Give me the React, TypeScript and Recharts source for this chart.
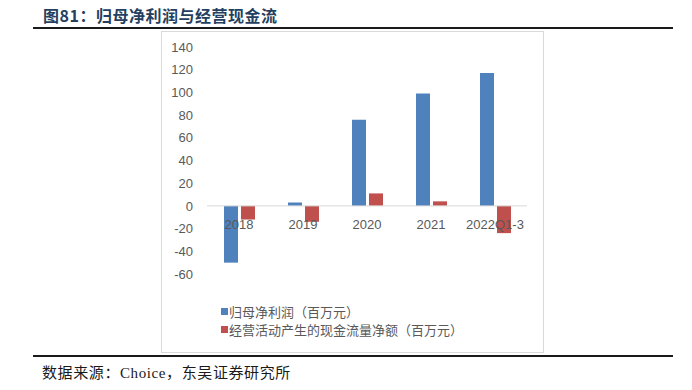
import { BarChart, Bar, XAxis, YAxis, ReferenceLine } from 'recharts';

const categories = ['2018', '2019', '2020', '2021', '2022Q1-3'];
const netProfit = [-50, 3, 76, 99, 117];
const operatingCash = [-12, -14, 11, 4, -24];
const yTicks = [-60, -40, -20, 0, 20, 40, 60, 80, 100, 120, 140];

const series = [
  { key: 'netProfit', name: '归母净利润（百万元）', color: '#4f81bd' },
  { key: 'operatingCash', name: '经营活动产生的现金流量净额（百万元）', color: '#c0504d' },
];

const data = categories.map((c, i) => ({
  name: c,
  netProfit: netProfit[i],
  operatingCash: operatingCash[i],
}));

const axisFont = '"Liberation Sans", Arial, sans-serif';

// x labels sit just under the zero line, not at the bottom of the plot
const XTick = ({ x, y, payload }: { x?: number; y?: number; payload?: { value: string } }) => (
  <text x={x} y={(y ?? 0) - 53} textAnchor="middle" fill="#595959" fontSize={13} fontFamily={axisFont}>
    {payload?.value}
  </text>
);

export default function App() {
  return (
    <div style={{ position: 'absolute', left: 0, top: 0, width: 692, height: 390, background: '#fff' }}>
      <div style={{
        position: 'absolute', left: 43, top: 3, fontSize: 16, fontWeight: 700, color: '#243f60',
        fontFamily: '"Noto Sans CJK SC", sans-serif', letterSpacing: '0.5px',
      }}>
        图81：归母净利润与经营现金流
      </div>
      <div style={{ position: 'absolute', left: 33, top: 27, width: 640, height: 2, background: '#1a1a1a' }} />

      <div style={{
        position: 'absolute', left: 161, top: 31, width: 383, height: 322,
        border: '1px solid #d9d9d9', boxSizing: 'border-box',
      }}>
        <BarChart
          width={381}
          height={320}
          data={data}
          margin={{ top: 15, right: 16, left: 0, bottom: 48 }}
          barSize={14}
          barGap={3}
        >
          <XAxis dataKey="name" axisLine={false} tickLine={false} tick={<XTick />} height={30} interval={0} />
          <YAxis
            domain={[-60, 140]}
            ticks={yTicks}
            axisLine={false}
            tickLine={false}
            width={45}
            tickMargin={8}
            tick={{ fontSize: 13, fill: '#595959', fontFamily: axisFont }}
          />
          <ReferenceLine y={0} stroke="#d9d9d9" strokeWidth={1} />
          {series.map((s) => (
            <Bar key={s.key} dataKey={s.key} name={s.name} fill={s.color} isAnimationActive={false} />
          ))}
        </BarChart>

        <div style={{ position: 'absolute', left: 59, top: 270, fontFamily: '"Noto Sans CJK SC", sans-serif', fontSize: 13, color: '#595959' }}>
          {series.map((s) => (
            <div key={s.key} style={{ display: 'flex', alignItems: 'center', height: 18.5 }}>
              <div style={{ width: 7, height: 7, background: s.color, marginRight: 1 }} />
              <span>{s.name}</span>
            </div>
          ))}
        </div>
      </div>

      <div style={{ position: 'absolute', left: 33, top: 355, width: 640, height: 2, background: '#1a1a1a' }} />
      <div style={{
        position: 'absolute', left: 42, top: 361, fontSize: 15, color: '#1a1a1a',
        fontFamily: '"Liberation Serif", "Noto Sans CJK SC", serif', letterSpacing: '0.6px',
      }}>
        数据来源：Choice，东吴证券研究所
      </div>
    </div>
  );
}
